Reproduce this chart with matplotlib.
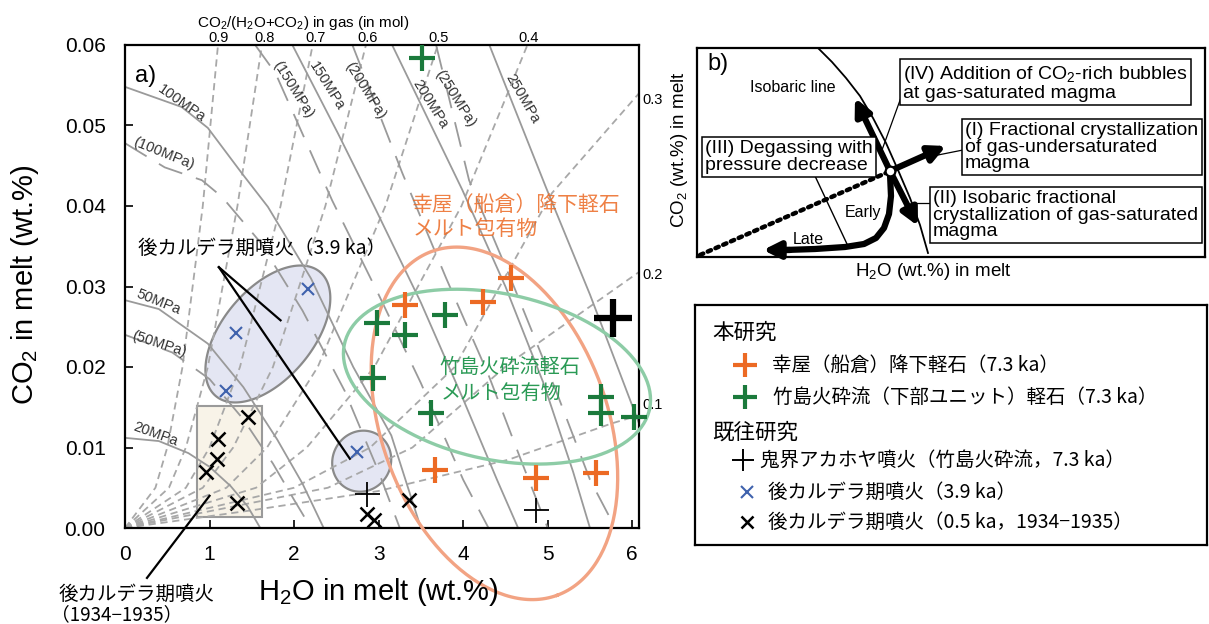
import numpy as np
import matplotlib.pyplot as plt
from matplotlib.patches import Rectangle

plt.rcParams['font.family'] = ['Liberation Sans', 'DejaVu Sans']
plt.rcParams['mathtext.fontset'] = 'custom'
plt.rcParams['mathtext.rm'] = 'Liberation Sans'
plt.rcParams['mathtext.default'] = 'regular'
JP = ['Noto Sans CJK JP', 'DejaVu Sans']

# ---- melt inclusion data (H2O wt.%, CO2 wt.%) ----
koya_h2o = [3.31, 4.23, 4.57, 3.67, 4.86, 5.57]
koya_co2 = [0.0277, 0.0281, 0.0311, 0.0072, 0.0062, 0.0068]
take_h2o = [3.51, 2.98, 3.31, 3.78, 2.93, 3.62, 5.63, 5.63, 6.02]
take_co2 = [0.0584, 0.0255, 0.0240, 0.0265, 0.0186, 0.0143, 0.0163, 0.0143, 0.0138]
akahoya_h2o = [2.86, 4.86]
akahoya_co2 = [0.0042, 0.0022]
akahoya_big_h2o = [5.77]
akahoya_big_co2 = [0.0261]
pc39_h2o = [2.17, 1.31, 1.20, 2.74]
pc39_co2 = [0.0297, 0.0242, 0.0170, 0.0094]
pc1934_h2o = [1.45, 1.10, 1.09, 0.96, 1.32, 2.86, 2.95, 3.36]
pc1934_co2 = [0.0138, 0.0111, 0.0086, 0.0070, 0.0031, 0.0017, 0.0010, 0.0035]

# ---- isobars (solid) and isobars of the other model (long dash) ----
isobar_names = ['20MPa', '50MPa', '100MPa', '150MPa', '200MPa', '250MPa']
isobar_x = [[0, 0.4, 0.75, 1.0, 1.25, 1.45, 1.6],
            [0, 0.4, 0.98, 1.4, 1.8, 2.1, 2.35],
            [0, 0.67, 0.98, 1.38, 1.69, 2.2, 2.7, 3.15, 3.5],
            [1.98, 2.52, 2.96, 3.5, 4.0, 4.4, 4.65],
            [3.16, 3.99, 4.5, 4.95, 5.3, 5.5],
            [4.31, 4.98, 5.5, 6.08]]
isobar_y = [[0.0112, 0.0108, 0.0093, 0.0076, 0.0052, 0.0027, 0],
            [0.0283, 0.0272, 0.0229, 0.0175, 0.0110, 0.0055, 0],
            [0.0548, 0.0523, 0.0497, 0.0441, 0.0399, 0.031, 0.020, 0.0115, 0],
            [0.06, 0.049, 0.0397, 0.028, 0.016, 0.006, 0],
            [0.06, 0.042, 0.030, 0.018, 0.007, 0],
            [0.06, 0.0423, 0.029, 0.013]]
isobar2_names = ['(50MPa)', '(100MPa)', '(150MPa)', '(200MPa)', '(250MPa)']
isobar2_x = [[0, 0.56, 1.0, 1.4, 1.75, 2.0, 2.2],
             [0, 0.47, 0.91, 1.15, 1.6, 2.1, 2.6, 3.0, 3.25],
             [1.54, 1.78, 2.45, 3.0, 3.5, 4.0, 4.3],
             [2.69, 3.28, 3.8, 4.3, 4.7, 5.0],
             [3.68, 4.07, 4.6, 5.1, 5.5, 5.8]]
isobar2_y = [[0.0240, 0.0218, 0.0185, 0.0135, 0.0080, 0.0035, 0],
             [0.0478, 0.0448, 0.0432, 0.0411, 0.0355, 0.027, 0.017, 0.007, 0],
             [0.06, 0.0565, 0.0407, 0.029, 0.018, 0.006, 0],
             [0.06, 0.0441, 0.031, 0.019, 0.008, 0],
             [0.06, 0.0432, 0.030, 0.017, 0.006, 0]]

# ---- gas composition isopleths CO2/(H2O+CO2) ----
iso_levels = [0, 0.005, 0.01, 0.02, 0.04, 0.06]
isopleth_x = [[0, 0.36, 0.50, 0.68, 0.92, 1.10],
              [0, 0.52, 0.72, 0.98, 1.33, 1.62],
              [0, 0.72, 1.00, 1.36, 1.84, 2.22],
              [0, 0.92, 1.28, 1.75, 2.37, 2.85],
              [0, 1.20, 1.68, 2.28, 3.08, 3.70],
              [0, 1.55, 2.15, 2.95, 3.98, 4.76]]
low_isopleth_x = [[0, 2.0, 2.9, 3.9, 5.05, 6.08],
                  [0, 2.4, 3.4, 4.54, 6.08],
                  [0, 1.5, 3.0, 4.54, 5.76, 6.08]]
low_isopleth_y = [[0, 0.005, 0.010, 0.020, 0.0416, 0.054],
                  [0, 0.005, 0.010, 0.0204, 0.0318],
                  [0, 0.0022, 0.0046, 0.0085, 0.0130, 0.0140]]
top_labels = ['0.9', '0.8', '0.7', '0.6', '0.5', '0.4']
top_label_x = [1.11, 1.65, 2.26, 2.87, 3.71, 4.77]
right_labels = ['0.3', '0.2', '0.1']
right_label_y = [0.0532, 0.0314, 0.0153]

ORANGE = '#ec6a24'
GREEN = '#1b7a3c'
BLUE = '#3f62ad'
GRAY = '#9a9a9a'

W, H = 1209, 624
fig = plt.figure(figsize=(W / 100, H / 100), dpi=100)
ax = fig.add_axes([125 / W, 1 - 528 / H, 514 / W, 483 / H])
ax.set_xlim(0, 6.08)
ax.set_ylim(0, 0.06)
SX = 514 / 6.08
SY = 483 / 0.06


def ellipse_xy(cx, cy, a, b, ang):
    # ellipse given in screen pixels around a data-space centre
    t = np.linspace(0, 2 * np.pi, 240)
    th = np.radians(ang)
    px = a * np.cos(t) * np.cos(th) - b * np.sin(t) * np.sin(th)
    py = a * np.cos(t) * np.sin(th) + b * np.sin(t) * np.cos(th)
    return cx + px / SX, cy + py / SY


for xs in isopleth_x:
    ax.plot(xs, iso_levels, color='#a8a8a8', lw=1.3, ls=(0, (4, 2.6)), zorder=2)
for xs, ys in zip(low_isopleth_x, low_isopleth_y):
    ax.plot(xs, ys, color='#a8a8a8', lw=1.3, ls=(0, (4, 2.6)), zorder=2)
for xs, ys in zip(isobar_x, isobar_y):
    ax.plot(xs, ys, color=GRAY, lw=1.3, zorder=2)
for xs, ys in zip(isobar2_x, isobar2_y):
    ax.plot(xs, ys, color=GRAY, lw=1.3, ls=(0, (14, 8)), zorder=2)

# isobar labels
lab_kw = dict(fontsize=10.5, color='#333333', ha='center', va='center', zorder=3)
ax.text(0.36, 0.0117, '20MPa', rotation=-20, **lab_kw)
ax.text(0.40, 0.0281, '50MPa', rotation=-22, **lab_kw)
ax.text(0.40, 0.0228, '(50MPa)', rotation=-18, **lab_kw)
ax.text(0.67, 0.0528, '100MPa', rotation=-35, **lab_kw)
ax.text(0.46, 0.0465, '(100MPa)', rotation=-22, **lab_kw)
ax.text(1.99, 0.0545, '(150MPa)', rotation=-58, **lab_kw)
ax.text(2.39, 0.0549, '150MPa', rotation=-58, **lab_kw)
ax.text(2.84, 0.0543, '(200MPa)', rotation=-58, **lab_kw)
ax.text(3.61, 0.0526, '200MPa', rotation=-58, **lab_kw)
ax.text(3.90, 0.0534, '(250MPa)', rotation=-58, **lab_kw)
ax.text(4.70, 0.0533, '250MPa', rotation=-60, **lab_kw)

# gas composition labels
ax.text(2.11, 1.0455, 'CO$_2$/(H$_2$O+CO$_2$) in gas (in mol)', transform=ax.get_xaxis_transform(),
        ha='center', va='center', fontsize=11)
for lab, x in zip(top_labels, top_label_x):
    ax.text(x, 1.0145, lab, transform=ax.get_xaxis_transform(), ha='center', va='center', fontsize=10.5)
for lab, y in zip(right_labels, right_label_y):
    ax.text(1.006, y, lab, transform=ax.get_yaxis_transform(), ha='left', va='center', fontsize=10.5)

# groups
ex, ey = ellipse_xy(1.69, 0.0241, 81, 45, 50)
ax.fill(ex, ey, fc='#e4e6f3', ec='#8a8a8a', lw=1.6, zorder=1)
ex, ey = ellipse_xy(2.80, 0.0083, 31, 29, 60)
ax.fill(ex, ey, fc='#e4e6f3', ec='#8a8a8a', lw=1.6, zorder=1)
ax.add_patch(Rectangle((0.85, 0.00137), 0.77, 0.01379, fc='#f8f3e8', ec='#9a9a9a', lw=1.5, zorder=1))
ex, ey = ellipse_xy(4.37, 0.0130, 183, 113, -70)
ax.plot(ex, ey, color='#f2a383', lw=2.4, zorder=3, clip_on=False)
ex, ey = ellipse_xy(4.40, 0.0188, 156, 83, -12)
ax.plot(ex, ey, color='#8dcca6', lw=2.4, zorder=3, clip_on=False)

# markers
ax.plot(pc1934_h2o, pc1934_co2, 'x', color='black', ms=10, mew=1.8, zorder=5)
ax.plot(pc39_h2o, pc39_co2, 'x', color=BLUE, ms=9, mew=1.5, zorder=5)
ax.plot(akahoya_h2o, akahoya_co2, '+', color='black', ms=18, mew=1.3, zorder=5)
ax.plot(akahoya_big_h2o, akahoya_big_co2, '+', color='black', ms=27, mew=4.5, zorder=5, clip_on=False)
ax.plot(koya_h2o, koya_co2, '+', color=ORANGE, ms=19, mew=3.0, zorder=5)
ax.plot(take_h2o, take_co2, '+', color=GREEN, ms=19, mew=3.0, zorder=5, clip_on=False)

# annotations
ax.text(0.12, 0.0561, 'a)', fontsize=17, ha='left', va='center')
ax.text(3.39, 0.0401, '幸屋（船倉）降下軽石', family=JP, fontsize=15, color=ORANGE,
        ha='left', va='center', alpha=0.85, zorder=6)
ax.text(3.40, 0.0371, 'メルト包有物', family=JP, fontsize=15, color=ORANGE,
        ha='left', va='center', alpha=0.85, zorder=6)
ax.text(3.72, 0.0200, '竹島火砕流軽石', family=JP, fontsize=14.5, color='#2a9a55',
        ha='left', va='center', zorder=6)
ax.text(3.73, 0.0167, 'メルト包有物', family=JP, fontsize=14.5, color='#2a9a55',
        ha='left', va='center', zorder=6)
ax.text(0.15, 0.0347, '後カルデラ期噴火（3.9 ka）', family=JP, fontsize=14, ha='left', va='center', zorder=6)
ax.plot([1.11, 1.84], [0.0324, 0.0258], color='black', lw=1.6, zorder=6)
ax.plot([1.11, 2.66], [0.0324, 0.0086], color='black', lw=1.6, zorder=6)
ax.plot([0.26, 1.0], [-0.0062, 0.0040], color='black', lw=1.6, zorder=6, clip_on=False)

ax.set_xticks(range(7))
ax.set_yticks([0, 0.01, 0.02, 0.03, 0.04, 0.05, 0.06])
ax.set_yticklabels(['0.00', '0.01', '0.02', '0.03', '0.04', '0.05', '0.06'])
ax.tick_params(direction='in', length=6, width=1.2, labelsize=15)
ax.tick_params(axis='x', pad=12)
ax.tick_params(axis='y', pad=14)
for s in ax.spines.values():
    s.set_linewidth(1.6)

fig.text(378 / W, 1 - 592 / H, 'H$_2$O in melt (wt.%)', fontsize=21, ha='center', va='center')
fig.text(25 / W, 1 - 285 / H, 'CO$_2$ in melt (wt.%)', fontsize=21, rotation=90, ha='center', va='center')
fig.text(137 / W, 1 - 594 / H, '後カルデラ期噴火', family=JP, fontsize=14, ha='center', va='center')
fig.text(117 / W, 1 - 615 / H, '（1934−1935）', family=JP, fontsize=13.5, ha='center', va='center')

# ---- panel b: schematic ----
axb = fig.add_axes([697 / W, 1 - 257 / H, 508 / W, 209 / H])
axb.set_xlim(697, 1205)
axb.set_ylim(257, 48)
axb.set_xticks([])
axb.set_yticks([])
for s in axb.spines.values():
    s.set_linewidth(1.6)
isobar_line_x = [818, 832, 846, 860, 873, 886, 898, 910, 920, 928]
isobar_line_y = [48, 62, 78, 96, 118, 143, 170, 198, 225, 253]
axb.plot(isobar_line_x, isobar_line_y, color='black', lw=1.3)
axb.plot([815, 847], [176, 244], color='black', lw=1.0)
axb.plot([700, 886], [255, 173], color='black', lw=3.2, ls=(0, (0.8, 1.1)), dash_capstyle='round')
path_x = [890, 891, 889, 884, 876, 864, 845, 815, 785]
path_y = [174, 196, 214, 228, 238, 244, 247, 249, 250]
axb.plot(path_x, path_y, color='black', lw=4.5, solid_capstyle='butt')
arr = dict(arrowstyle='-|>,head_length=0.7,head_width=0.35', lw=4.5, color='black',
           shrinkA=0, shrinkB=0, mutation_scale=14)
axb.annotate('', xy=(763, 250), xytext=(790, 250), arrowprops=arr)
axb.annotate('', xy=(855, 98), xytext=(890, 171), arrowprops=arr)
axb.annotate('', xy=(946, 146), xytext=(890, 171), arrowprops=arr)
axb.annotate('', xy=(918, 226), xytext=(890, 171), arrowprops=arr)
axb.plot([890], [171], 'o', ms=7, mfc='white', mec='black', mew=1.6, zorder=6)
axb.plot([903, 882], [92, 150], color='black', lw=0.9)
axb.plot([963, 938], [150, 155], color='black', lw=0.9)
axb.plot([930, 915], [203, 203], color='black', lw=0.9)

axb.text(707, 64, 'b)', fontsize=17, ha='left', va='center')
axb.text(750, 88, 'Isobaric line', fontsize=11.5, ha='left', va='center')
axb.text(845, 212, 'Early', fontsize=11.5, ha='left', va='center')
axb.text(793, 240, 'Late', fontsize=11.5, ha='left', va='center')
box = dict(boxstyle='square,pad=0.18', fc='white', ec='black', lw=1.1)
axb.text(903, 83, '(IV) Addition of CO$_2$-rich bubbles\nat gas-saturated magma', fontsize=14,
         ha='left', va='center', linespacing=0.95, bbox=box, zorder=7)
axb.text(965, 147, '(I) Fractional crystallization\nof gas-undersaturated\nmagma', fontsize=14,
         ha='left', va='center', linespacing=0.95, bbox=box, zorder=7)
axb.text(705, 157, '(III) Degassing with\npressure decrease', fontsize=14,
         ha='left', va='center', linespacing=0.95, bbox=box, zorder=7)
axb.text(933, 215, '(II) Isobaric fractional\ncrystallization of gas-saturated\nmagma', fontsize=14,
         ha='left', va='center', linespacing=0.95, bbox=box, zorder=7)
fig.text(933 / W, 1 - 272 / H, 'H$_2$O (wt.%) in melt', fontsize=13.5, ha='center', va='center')
fig.text(680 / W, 1 - 150 / H, 'CO$_2$ (wt.%) in melt', fontsize=13.5, rotation=90, ha='center', va='center')

# ---- legend ----
axl = fig.add_axes([695 / W, 1 - 545 / H, 512 / W, 240 / H])
axl.set_xlim(695, 1207)
axl.set_ylim(545, 305)
axl.set_xticks([])
axl.set_yticks([])
for s in axl.spines.values():
    s.set_linewidth(1.6)
axl.text(712, 333, '本研究', family=JP, fontsize=15.5, ha='left', va='center')
axl.text(712, 433, '既往研究', family=JP, fontsize=15.5, ha='left', va='center')
axl.plot([745], [365], '+', color=ORANGE, ms=17, mew=3.0)
axl.plot([745], [397], '+', color=GREEN, ms=17, mew=3.0)
axl.plot([743], [460], '+', color='black', ms=16, mew=1.4)
axl.plot([747], [492], 'x', color=BLUE, ms=8, mew=1.5)
axl.plot([747], [522], 'x', color='black', ms=8, mew=1.8)
leg_kw = dict(family=JP, fontsize=14, ha='left', va='center')
axl.text(772, 365, '幸屋（船倉）降下軽石（7.3 ka）', **leg_kw)
axl.text(773, 397, '竹島火砕流（下部ユニット）軽石（7.3 ka）', **leg_kw)
axl.text(760, 460, '鬼界アカホヤ噴火（竹島火砕流，7.3 ka）', **leg_kw)
axl.text(768, 492, '後カルデラ期噴火（3.9 ka）', **leg_kw)
axl.text(768, 522, '後カルデラ期噴火（0.5 ka，1934−1935）', **leg_kw)

fig.savefig('out.png', dpi=100)
